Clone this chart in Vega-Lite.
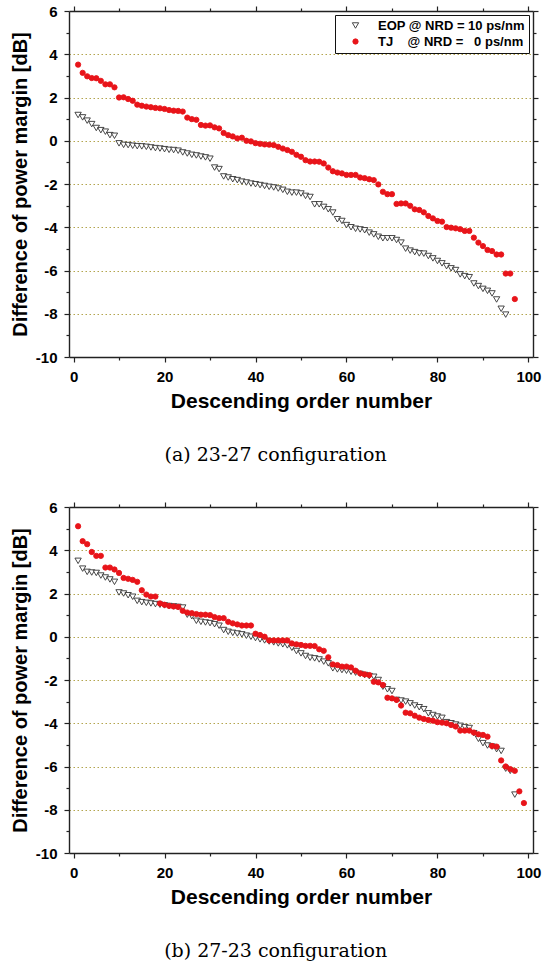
{
  "$schema": "https://vega.github.io/schema/vega-lite/v6.json",
  "padding": {"left": 10, "top": 4, "right": 5, "bottom": 5},
  "background": "white",
  "spacing": 35,
  "config": {
    "view": {"stroke": null},
    "axis": {
      "domainColor": "#222222",
      "domainWidth": 1.4,
      "tickColor": "#222222",
      "tickWidth": 1.2,
      "labelFont": "Liberation Sans",
      "labelFontWeight": "bold",
      "labelFontSize": 15,
      "labelColor": "#000000",
      "labelPadding": 7,
      "labelFlush": false,
      "labelOverlap": false,
      "titleFont": "Liberation Sans",
      "titleFontWeight": "bold",
      "titleColor": "#000000"
    },
    "legend": {
      "labelFont": "Liberation Sans",
      "labelFontWeight": "bold",
      "labelFontSize": 13,
      "labelColor": "#000000"
    }
  },
  "datasets": {
    "a": [
      {"order":1,"margin":1.19,"series":"EOP"},{"order":2,"margin":1.08,"series":"EOP"},{"order":3,"margin":0.93,"series":"EOP"},{"order":4,"margin":0.77,"series":"EOP"},{"order":5,"margin":0.59,"series":"EOP"},
      {"order":6,"margin":0.49,"series":"EOP"},{"order":7,"margin":0.42,"series":"EOP"},{"order":8,"margin":0.26,"series":"EOP"},{"order":9,"margin":0.23,"series":"EOP"},{"order":10,"margin":-0.12,"series":"EOP"},
      {"order":11,"margin":-0.19,"series":"EOP"},{"order":12,"margin":-0.2,"series":"EOP"},{"order":13,"margin":-0.23,"series":"EOP"},{"order":14,"margin":-0.25,"series":"EOP"},{"order":15,"margin":-0.26,"series":"EOP"},
      {"order":16,"margin":-0.28,"series":"EOP"},{"order":17,"margin":-0.31,"series":"EOP"},{"order":18,"margin":-0.34,"series":"EOP"},{"order":19,"margin":-0.36,"series":"EOP"},{"order":20,"margin":-0.39,"series":"EOP"},
      {"order":21,"margin":-0.42,"series":"EOP"},{"order":22,"margin":-0.43,"series":"EOP"},{"order":23,"margin":-0.46,"series":"EOP"},{"order":24,"margin":-0.54,"series":"EOP"},{"order":25,"margin":-0.59,"series":"EOP"},
      {"order":26,"margin":-0.65,"series":"EOP"},{"order":27,"margin":-0.68,"series":"EOP"},{"order":28,"margin":-0.73,"series":"EOP"},{"order":29,"margin":-0.77,"series":"EOP"},{"order":30,"margin":-0.83,"series":"EOP"},
      {"order":31,"margin":-1.24,"series":"EOP"},{"order":32,"margin":-1.31,"series":"EOP"},{"order":33,"margin":-1.65,"series":"EOP"},{"order":34,"margin":-1.7,"series":"EOP"},{"order":35,"margin":-1.78,"series":"EOP"},
      {"order":36,"margin":-1.82,"series":"EOP"},{"order":37,"margin":-1.89,"series":"EOP"},{"order":38,"margin":-1.93,"series":"EOP"},{"order":39,"margin":-1.98,"series":"EOP"},{"order":40,"margin":-2.01,"series":"EOP"},
      {"order":41,"margin":-2.05,"series":"EOP"},{"order":42,"margin":-2.09,"series":"EOP"},{"order":43,"margin":-2.13,"series":"EOP"},{"order":44,"margin":-2.16,"series":"EOP"},{"order":45,"margin":-2.21,"series":"EOP"},
      {"order":46,"margin":-2.27,"series":"EOP"},{"order":47,"margin":-2.36,"series":"EOP"},{"order":48,"margin":-2.4,"series":"EOP"},{"order":49,"margin":-2.4,"series":"EOP"},{"order":50,"margin":-2.44,"series":"EOP"},
      {"order":51,"margin":-2.55,"series":"EOP"},{"order":52,"margin":-2.6,"series":"EOP"},{"order":53,"margin":-2.94,"series":"EOP"},{"order":54,"margin":-2.94,"series":"EOP"},{"order":55,"margin":-3.06,"series":"EOP"},
      {"order":56,"margin":-3.17,"series":"EOP"},{"order":57,"margin":-3.32,"series":"EOP"},{"order":58,"margin":-3.63,"series":"EOP"},{"order":59,"margin":-3.71,"series":"EOP"},{"order":60,"margin":-3.9,"series":"EOP"},
      {"order":61,"margin":-4.0,"series":"EOP"},{"order":62,"margin":-4.07,"series":"EOP"},{"order":63,"margin":-4.1,"series":"EOP"},{"order":64,"margin":-4.14,"series":"EOP"},{"order":65,"margin":-4.25,"series":"EOP"},
      {"order":66,"margin":-4.33,"series":"EOP"},{"order":67,"margin":-4.44,"series":"EOP"},{"order":68,"margin":-4.51,"series":"EOP"},{"order":69,"margin":-4.51,"series":"EOP"},{"order":70,"margin":-4.51,"series":"EOP"},
      {"order":71,"margin":-4.59,"series":"EOP"},{"order":72,"margin":-4.71,"series":"EOP"},{"order":73,"margin":-4.99,"series":"EOP"},{"order":74,"margin":-5.08,"series":"EOP"},{"order":75,"margin":-5.15,"series":"EOP"},
      {"order":76,"margin":-5.21,"series":"EOP"},{"order":77,"margin":-5.22,"series":"EOP"},{"order":78,"margin":-5.33,"series":"EOP"},{"order":79,"margin":-5.44,"series":"EOP"},{"order":80,"margin":-5.56,"series":"EOP"},
      {"order":81,"margin":-5.67,"series":"EOP"},{"order":82,"margin":-5.8,"series":"EOP"},{"order":83,"margin":-5.9,"series":"EOP"},{"order":84,"margin":-5.98,"series":"EOP"},{"order":85,"margin":-6.18,"series":"EOP"},
      {"order":86,"margin":-6.26,"series":"EOP"},{"order":87,"margin":-6.31,"series":"EOP"},{"order":88,"margin":-6.6,"series":"EOP"},{"order":89,"margin":-6.72,"series":"EOP"},{"order":90,"margin":-6.85,"series":"EOP"},
      {"order":91,"margin":-6.94,"series":"EOP"},{"order":92,"margin":-7.06,"series":"EOP"},{"order":93,"margin":-7.34,"series":"EOP"},{"order":94,"margin":-7.77,"series":"EOP"},{"order":95,"margin":-8.04,"series":"EOP"},
      {"order":1,"margin":3.52,"series":"TJ"},{"order":2,"margin":3.14,"series":"TJ"},{"order":3,"margin":2.98,"series":"TJ"},{"order":4,"margin":2.9,"series":"TJ"},{"order":5,"margin":2.89,"series":"TJ"},
      {"order":6,"margin":2.77,"series":"TJ"},{"order":7,"margin":2.61,"series":"TJ"},{"order":8,"margin":2.61,"series":"TJ"},{"order":9,"margin":2.47,"series":"TJ"},{"order":10,"margin":2.0,"series":"TJ"},
      {"order":11,"margin":2.01,"series":"TJ"},{"order":12,"margin":1.93,"series":"TJ"},{"order":13,"margin":1.85,"series":"TJ"},{"order":14,"margin":1.67,"series":"TJ"},{"order":15,"margin":1.62,"series":"TJ"},
      {"order":16,"margin":1.58,"series":"TJ"},{"order":17,"margin":1.55,"series":"TJ"},{"order":18,"margin":1.52,"series":"TJ"},{"order":19,"margin":1.5,"series":"TJ"},{"order":20,"margin":1.47,"series":"TJ"},
      {"order":21,"margin":1.42,"series":"TJ"},{"order":22,"margin":1.39,"series":"TJ"},{"order":23,"margin":1.38,"series":"TJ"},{"order":24,"margin":1.35,"series":"TJ"},{"order":25,"margin":1.07,"series":"TJ"},
      {"order":26,"margin":1.0,"series":"TJ"},{"order":27,"margin":0.97,"series":"TJ"},{"order":28,"margin":0.73,"series":"TJ"},{"order":29,"margin":0.7,"series":"TJ"},{"order":30,"margin":0.71,"series":"TJ"},
      {"order":31,"margin":0.62,"series":"TJ"},{"order":32,"margin":0.57,"series":"TJ"},{"order":33,"margin":0.36,"series":"TJ"},{"order":34,"margin":0.26,"series":"TJ"},{"order":35,"margin":0.2,"series":"TJ"},
      {"order":36,"margin":0.11,"series":"TJ"},{"order":37,"margin":0.14,"series":"TJ"},{"order":38,"margin":0.0,"series":"TJ"},{"order":39,"margin":-0.03,"series":"TJ"},{"order":40,"margin":-0.11,"series":"TJ"},
      {"order":41,"margin":-0.14,"series":"TJ"},{"order":42,"margin":-0.17,"series":"TJ"},{"order":43,"margin":-0.18,"series":"TJ"},{"order":44,"margin":-0.2,"series":"TJ"},{"order":45,"margin":-0.28,"series":"TJ"},
      {"order":46,"margin":-0.36,"series":"TJ"},{"order":47,"margin":-0.43,"series":"TJ"},{"order":48,"margin":-0.51,"series":"TJ"},{"order":49,"margin":-0.65,"series":"TJ"},{"order":50,"margin":-0.74,"series":"TJ"},
      {"order":51,"margin":-0.9,"series":"TJ"},{"order":52,"margin":-0.96,"series":"TJ"},{"order":53,"margin":-0.96,"series":"TJ"},{"order":54,"margin":-0.97,"series":"TJ"},{"order":55,"margin":-1.05,"series":"TJ"},
      {"order":56,"margin":-1.24,"series":"TJ"},{"order":57,"margin":-1.41,"series":"TJ"},{"order":58,"margin":-1.47,"series":"TJ"},{"order":59,"margin":-1.51,"series":"TJ"},{"order":60,"margin":-1.58,"series":"TJ"},
      {"order":61,"margin":-1.58,"series":"TJ"},{"order":62,"margin":-1.58,"series":"TJ"},{"order":63,"margin":-1.7,"series":"TJ"},{"order":64,"margin":-1.73,"series":"TJ"},{"order":65,"margin":-1.78,"series":"TJ"},
      {"order":66,"margin":-1.82,"series":"TJ"},{"order":67,"margin":-2.02,"series":"TJ"},{"order":68,"margin":-2.36,"series":"TJ"},{"order":69,"margin":-2.47,"series":"TJ"},{"order":70,"margin":-2.47,"series":"TJ"},
      {"order":71,"margin":-2.92,"series":"TJ"},{"order":72,"margin":-2.9,"series":"TJ"},{"order":73,"margin":-2.9,"series":"TJ"},{"order":74,"margin":-3.01,"series":"TJ"},{"order":75,"margin":-3.17,"series":"TJ"},
      {"order":76,"margin":-3.2,"series":"TJ"},{"order":77,"margin":-3.31,"series":"TJ"},{"order":78,"margin":-3.48,"series":"TJ"},{"order":79,"margin":-3.59,"series":"TJ"},{"order":80,"margin":-3.71,"series":"TJ"},
      {"order":81,"margin":-3.74,"series":"TJ"},{"order":82,"margin":-3.99,"series":"TJ"},{"order":83,"margin":-4.02,"series":"TJ"},{"order":84,"margin":-4.05,"series":"TJ"},{"order":85,"margin":-4.09,"series":"TJ"},
      {"order":86,"margin":-4.17,"series":"TJ"},{"order":87,"margin":-4.17,"series":"TJ"},{"order":88,"margin":-4.48,"series":"TJ"},{"order":89,"margin":-4.71,"series":"TJ"},{"order":90,"margin":-4.87,"series":"TJ"},
      {"order":91,"margin":-5.05,"series":"TJ"},{"order":92,"margin":-5.1,"series":"TJ"},{"order":93,"margin":-5.26,"series":"TJ"},{"order":94,"margin":-5.26,"series":"TJ"},{"order":95,"margin":-6.14,"series":"TJ"},
      {"order":96,"margin":-6.14,"series":"TJ"},{"order":97,"margin":-7.32,"series":"TJ"}
    ],
    "b": [
      {"order":1,"margin":3.51,"series":"EOP"},{"order":2,"margin":3.15,"series":"EOP"},{"order":3,"margin":3.0,"series":"EOP"},{"order":4,"margin":2.97,"series":"EOP"},{"order":5,"margin":2.95,"series":"EOP"},
      {"order":6,"margin":2.83,"series":"EOP"},{"order":7,"margin":2.74,"series":"EOP"},{"order":8,"margin":2.65,"series":"EOP"},{"order":9,"margin":2.54,"series":"EOP"},{"order":10,"margin":2.05,"series":"EOP"},
      {"order":11,"margin":2.0,"series":"EOP"},{"order":12,"margin":1.92,"series":"EOP"},{"order":13,"margin":1.85,"series":"EOP"},{"order":14,"margin":1.66,"series":"EOP"},{"order":15,"margin":1.6,"series":"EOP"},
      {"order":16,"margin":1.57,"series":"EOP"},{"order":17,"margin":1.54,"series":"EOP"},{"order":18,"margin":1.51,"series":"EOP"},{"order":19,"margin":1.48,"series":"EOP"},{"order":20,"margin":1.45,"series":"EOP"},
      {"order":21,"margin":1.42,"series":"EOP"},{"order":22,"margin":1.4,"series":"EOP"},{"order":23,"margin":1.38,"series":"EOP"},{"order":24,"margin":1.35,"series":"EOP"},{"order":25,"margin":1.02,"series":"EOP"},
      {"order":26,"margin":0.95,"series":"EOP"},{"order":27,"margin":0.74,"series":"EOP"},{"order":28,"margin":0.69,"series":"EOP"},{"order":29,"margin":0.66,"series":"EOP"},{"order":30,"margin":0.63,"series":"EOP"},
      {"order":31,"margin":0.58,"series":"EOP"},{"order":32,"margin":0.51,"series":"EOP"},{"order":33,"margin":0.31,"series":"EOP"},{"order":34,"margin":0.23,"series":"EOP"},{"order":35,"margin":0.18,"series":"EOP"},
      {"order":36,"margin":0.15,"series":"EOP"},{"order":37,"margin":0.11,"series":"EOP"},{"order":38,"margin":0.05,"series":"EOP"},{"order":39,"margin":0.0,"series":"EOP"},{"order":40,"margin":-0.06,"series":"EOP"},
      {"order":41,"margin":-0.12,"series":"EOP"},{"order":42,"margin":-0.17,"series":"EOP"},{"order":43,"margin":-0.22,"series":"EOP"},{"order":44,"margin":-0.26,"series":"EOP"},{"order":45,"margin":-0.31,"series":"EOP"},
      {"order":46,"margin":-0.35,"series":"EOP"},{"order":47,"margin":-0.4,"series":"EOP"},{"order":48,"margin":-0.51,"series":"EOP"},{"order":49,"margin":-0.66,"series":"EOP"},{"order":50,"margin":-0.77,"series":"EOP"},
      {"order":51,"margin":-0.89,"series":"EOP"},{"order":52,"margin":-0.97,"series":"EOP"},{"order":53,"margin":-1.0,"series":"EOP"},{"order":54,"margin":-1.05,"series":"EOP"},{"order":55,"margin":-1.15,"series":"EOP"},
      {"order":56,"margin":-1.23,"series":"EOP"},{"order":57,"margin":-1.46,"series":"EOP"},{"order":58,"margin":-1.51,"series":"EOP"},{"order":59,"margin":-1.54,"series":"EOP"},{"order":60,"margin":-1.57,"series":"EOP"},
      {"order":61,"margin":-1.62,"series":"EOP"},{"order":62,"margin":-1.66,"series":"EOP"},{"order":63,"margin":-1.72,"series":"EOP"},{"order":64,"margin":-1.77,"series":"EOP"},{"order":65,"margin":-1.82,"series":"EOP"},
      {"order":66,"margin":-1.85,"series":"EOP"},{"order":67,"margin":-2.0,"series":"EOP"},{"order":68,"margin":-2.31,"series":"EOP"},{"order":69,"margin":-2.43,"series":"EOP"},{"order":70,"margin":-2.51,"series":"EOP"},
      {"order":71,"margin":-2.92,"series":"EOP"},{"order":72,"margin":-2.95,"series":"EOP"},{"order":73,"margin":-3.0,"series":"EOP"},{"order":74,"margin":-3.08,"series":"EOP"},{"order":75,"margin":-3.18,"series":"EOP"},
      {"order":76,"margin":-3.26,"series":"EOP"},{"order":77,"margin":-3.35,"series":"EOP"},{"order":78,"margin":-3.54,"series":"EOP"},{"order":79,"margin":-3.62,"series":"EOP"},{"order":80,"margin":-3.69,"series":"EOP"},
      {"order":81,"margin":-3.75,"series":"EOP"},{"order":82,"margin":-3.95,"series":"EOP"},{"order":83,"margin":-4.0,"series":"EOP"},{"order":84,"margin":-4.06,"series":"EOP"},{"order":85,"margin":-4.12,"series":"EOP"},
      {"order":86,"margin":-4.18,"series":"EOP"},{"order":87,"margin":-4.22,"series":"EOP"},{"order":88,"margin":-4.46,"series":"EOP"},{"order":89,"margin":-4.72,"series":"EOP"},{"order":90,"margin":-4.92,"series":"EOP"},
      {"order":91,"margin":-5.03,"series":"EOP"},{"order":92,"margin":-5.08,"series":"EOP"},{"order":93,"margin":-5.2,"series":"EOP"},{"order":94,"margin":-5.28,"series":"EOP"},{"order":95,"margin":-6.1,"series":"EOP"},
      {"order":96,"margin":-6.2,"series":"EOP"},{"order":97,"margin":-7.3,"series":"EOP"},
      {"order":1,"margin":5.11,"series":"TJ"},{"order":2,"margin":4.42,"series":"TJ"},{"order":3,"margin":4.28,"series":"TJ"},{"order":4,"margin":3.92,"series":"TJ"},{"order":5,"margin":3.74,"series":"TJ"},
      {"order":6,"margin":3.74,"series":"TJ"},{"order":7,"margin":3.2,"series":"TJ"},{"order":8,"margin":3.2,"series":"TJ"},{"order":9,"margin":3.11,"series":"TJ"},{"order":10,"margin":2.95,"series":"TJ"},
      {"order":11,"margin":2.72,"series":"TJ"},{"order":12,"margin":2.68,"series":"TJ"},{"order":13,"margin":2.63,"series":"TJ"},{"order":14,"margin":2.54,"series":"TJ"},{"order":15,"margin":2.15,"series":"TJ"},
      {"order":16,"margin":1.95,"series":"TJ"},{"order":17,"margin":1.86,"series":"TJ"},{"order":18,"margin":1.86,"series":"TJ"},{"order":19,"margin":1.54,"series":"TJ"},{"order":20,"margin":1.48,"series":"TJ"},
      {"order":21,"margin":1.43,"series":"TJ"},{"order":22,"margin":1.4,"series":"TJ"},{"order":23,"margin":1.38,"series":"TJ"},{"order":24,"margin":1.2,"series":"TJ"},{"order":25,"margin":1.12,"series":"TJ"},
      {"order":26,"margin":1.09,"series":"TJ"},{"order":27,"margin":1.05,"series":"TJ"},{"order":28,"margin":1.02,"series":"TJ"},{"order":29,"margin":1.02,"series":"TJ"},{"order":30,"margin":1.0,"series":"TJ"},
      {"order":31,"margin":0.91,"series":"TJ"},{"order":32,"margin":0.86,"series":"TJ"},{"order":33,"margin":0.86,"series":"TJ"},{"order":34,"margin":0.69,"series":"TJ"},{"order":35,"margin":0.62,"series":"TJ"},
      {"order":36,"margin":0.57,"series":"TJ"},{"order":37,"margin":0.52,"series":"TJ"},{"order":38,"margin":0.52,"series":"TJ"},{"order":39,"margin":0.52,"series":"TJ"},{"order":40,"margin":0.14,"series":"TJ"},
      {"order":41,"margin":0.08,"series":"TJ"},{"order":42,"margin":0.0,"series":"TJ"},{"order":43,"margin":-0.17,"series":"TJ"},{"order":44,"margin":-0.17,"series":"TJ"},{"order":45,"margin":-0.17,"series":"TJ"},
      {"order":46,"margin":-0.17,"series":"TJ"},{"order":47,"margin":-0.17,"series":"TJ"},{"order":48,"margin":-0.31,"series":"TJ"},{"order":49,"margin":-0.35,"series":"TJ"},{"order":50,"margin":-0.38,"series":"TJ"},
      {"order":51,"margin":-0.42,"series":"TJ"},{"order":52,"margin":-0.42,"series":"TJ"},{"order":53,"margin":-0.43,"series":"TJ"},{"order":54,"margin":-0.58,"series":"TJ"},{"order":55,"margin":-0.65,"series":"TJ"},
      {"order":56,"margin":-0.95,"series":"TJ"},{"order":57,"margin":-1.28,"series":"TJ"},{"order":58,"margin":-1.31,"series":"TJ"},{"order":59,"margin":-1.38,"series":"TJ"},{"order":60,"margin":-1.38,"series":"TJ"},
      {"order":61,"margin":-1.42,"series":"TJ"},{"order":62,"margin":-1.57,"series":"TJ"},{"order":63,"margin":-1.69,"series":"TJ"},{"order":64,"margin":-1.74,"series":"TJ"},{"order":65,"margin":-1.77,"series":"TJ"},
      {"order":66,"margin":-2.08,"series":"TJ"},{"order":67,"margin":-2.11,"series":"TJ"},{"order":68,"margin":-2.23,"series":"TJ"},{"order":69,"margin":-2.82,"series":"TJ"},{"order":70,"margin":-2.85,"series":"TJ"},
      {"order":71,"margin":-2.92,"series":"TJ"},{"order":72,"margin":-3.18,"series":"TJ"},{"order":73,"margin":-3.51,"series":"TJ"},{"order":74,"margin":-3.54,"series":"TJ"},{"order":75,"margin":-3.65,"series":"TJ"},
      {"order":76,"margin":-3.74,"series":"TJ"},{"order":77,"margin":-3.8,"series":"TJ"},{"order":78,"margin":-3.85,"series":"TJ"},{"order":79,"margin":-3.88,"series":"TJ"},{"order":80,"margin":-3.95,"series":"TJ"},
      {"order":81,"margin":-3.97,"series":"TJ"},{"order":82,"margin":-4.0,"series":"TJ"},{"order":83,"margin":-4.08,"series":"TJ"},{"order":84,"margin":-4.15,"series":"TJ"},{"order":85,"margin":-4.34,"series":"TJ"},
      {"order":86,"margin":-4.34,"series":"TJ"},{"order":87,"margin":-4.34,"series":"TJ"},{"order":88,"margin":-4.43,"series":"TJ"},{"order":89,"margin":-4.51,"series":"TJ"},{"order":90,"margin":-4.54,"series":"TJ"},
      {"order":91,"margin":-4.62,"series":"TJ"},{"order":92,"margin":-5.05,"series":"TJ"},{"order":93,"margin":-5.08,"series":"TJ"},{"order":94,"margin":-5.72,"series":"TJ"},{"order":95,"margin":-6.0,"series":"TJ"},
      {"order":96,"margin":-6.12,"series":"TJ"},{"order":97,"margin":-6.2,"series":"TJ"},{"order":98,"margin":-7.15,"series":"TJ"},{"order":99,"margin":-7.69,"series":"TJ"}
    ]
  },
  "vconcat": [
    {
      "width": 464,
      "height": 346,
      "data": {"name": "a"},
      "title": {"text": "(a) 23-27 configuration", "orient": "bottom", "anchor": "middle", "frame": "bounds", "font": "DejaVu Serif", "fontSize": 19, "fontWeight": "normal", "color": "#000000", "offset": 35},
      "layer": [
        {
          "mark": {"type": "point", "strokeWidth": 0.9, "opacity": 1},
          "encoding": {
            "x": {"field": "order", "type": "quantitative", "scale": {"domain": [-1, 101], "nice": false, "zero": false},
              "axis": {"orient": "bottom", "title": "Descending order number", "titleFontSize": 21, "titlePadding": 6, "grid": false,
                "values": [0, 10, 20, 30, 40, 50, 60, 70, 80, 90, 100],
                "labelExpr": "datum.value % 20 === 0 ? '' + datum.value : ''",
                "tickSize": {"condition": {"test": "datum.value % 20 !== 0", "value": 3}, "value": 5}}},
            "y": {"field": "margin", "type": "quantitative", "scale": {"domain": [-10, 6], "nice": false, "zero": false},
              "axis": {"orient": "left", "title": "Difference of power margin [dB]", "titleFontSize": 20, "titlePadding": 5,
                "values": [-10, -9, -8, -7, -6, -5, -4, -3, -2, -1, 0, 1, 2, 3, 4, 5, 6],
                "labelExpr": "datum.value % 2 === 0 ? '' + datum.value : ''",
                "tickSize": {"condition": {"test": "datum.value % 2 !== 0", "value": 3}, "value": 5},
                "grid": true, "gridColor": "#b3a54e", "gridDash": [1.5, 2.5], "gridWidth": 1,
                "gridOpacity": {"condition": {"test": "datum.value % 2 !== 0 || datum.value === 6 || datum.value === -10", "value": 0}, "value": 1}}},
            "shape": {"field": "series", "type": "nominal", "scale": {"domain": ["EOP", "TJ"], "range": ["triangle-down", "circle"]},
              "legend": {"title": null, "orient": "top-right", "offset": 4, "strokeColor": "#111111", "fillColor": "#ffffff", "padding": 4,
                "symbolSize": 36, "symbolStrokeWidth": 0.9, "labelOffset": 16, "rowPadding": 2, "symbolOffset": 10,
                "labelExpr": "datum.value === 'EOP' ? 'EOP @ NRD = 10 ps/nm' : 'TJ\u00a0\u00a0\u00a0\u00a0@ NRD =\u00a0\u00a0\u00a00 ps/nm'"}},
            "fill": {"field": "series", "type": "nominal", "scale": {"domain": ["EOP", "TJ"], "range": ["#ffffff", "#e8141a"]}},
            "stroke": {"field": "series", "type": "nominal", "scale": {"domain": ["EOP", "TJ"], "range": ["#333333", "#e8141a"]}},
            "size": {"field": "series", "type": "nominal", "scale": {"domain": ["EOP", "TJ"], "range": [40, 28]}}
          }
        },
        {
          "mark": {"type": "point", "opacity": 0},
          "encoding": {
            "x": {"field": "order", "type": "quantitative", "scale": {"domain": [-1, 101], "nice": false, "zero": false},
              "axis": {"orient": "top", "title": null, "labels": false, "grid": false,
                "values": [0, 10, 20, 30, 40, 50, 60, 70, 80, 90, 100],
                "tickSize": {"condition": {"test": "datum.value % 20 !== 0", "value": 3}, "value": 5}}},
            "y": {"field": "margin", "type": "quantitative", "scale": {"domain": [-10, 6], "nice": false, "zero": false},
              "axis": {"orient": "right", "title": null, "labels": false, "grid": false,
                "values": [-10, -9, -8, -7, -6, -5, -4, -3, -2, -1, 0, 1, 2, 3, 4, 5, 6],
                "tickSize": {"condition": {"test": "datum.value % 2 !== 0", "value": 3}, "value": 5}}}
          }
        }
      ],
      "resolve": {"axis": {"x": "independent", "y": "independent"}}
    },
    {
      "width": 464,
      "height": 346,
      "data": {"name": "b"},
      "title": {"text": "(b) 27-23 configuration", "orient": "bottom", "anchor": "middle", "frame": "bounds", "font": "DejaVu Serif", "fontSize": 19, "fontWeight": "normal", "color": "#000000", "offset": 35},
      "layer": [
        {
          "mark": {"type": "point", "strokeWidth": 0.9, "opacity": 1},
          "encoding": {
            "x": {"field": "order", "type": "quantitative", "scale": {"domain": [-1, 101], "nice": false, "zero": false},
              "axis": {"orient": "bottom", "title": "Descending order number", "titleFontSize": 21, "titlePadding": 6, "grid": false,
                "values": [0, 10, 20, 30, 40, 50, 60, 70, 80, 90, 100],
                "labelExpr": "datum.value % 20 === 0 ? '' + datum.value : ''",
                "tickSize": {"condition": {"test": "datum.value % 20 !== 0", "value": 3}, "value": 5}}},
            "y": {"field": "margin", "type": "quantitative", "scale": {"domain": [-10, 6], "nice": false, "zero": false},
              "axis": {"orient": "left", "title": "Difference of power margin [dB]", "titleFontSize": 20, "titlePadding": 5,
                "values": [-10, -9, -8, -7, -6, -5, -4, -3, -2, -1, 0, 1, 2, 3, 4, 5, 6],
                "labelExpr": "datum.value % 2 === 0 ? '' + datum.value : ''",
                "tickSize": {"condition": {"test": "datum.value % 2 !== 0", "value": 3}, "value": 5},
                "grid": true, "gridColor": "#b3a54e", "gridDash": [1.5, 2.5], "gridWidth": 1,
                "gridOpacity": {"condition": {"test": "datum.value % 2 !== 0 || datum.value === 6 || datum.value === -10", "value": 0}, "value": 1}}},
            "shape": {"field": "series", "type": "nominal", "scale": {"domain": ["EOP", "TJ"], "range": ["triangle-down", "circle"]},
              "legend": {"title": null, "orient": "top-right", "offset": 4, "strokeColor": "#111111", "fillColor": "#ffffff", "padding": 4,
                "symbolSize": 36, "symbolStrokeWidth": 0.9, "labelOffset": 16, "rowPadding": 2, "symbolOffset": 10,
                "labelExpr": "datum.value === 'EOP' ? 'EOP @ NRD = 10 ps/nm' : 'TJ\u00a0\u00a0\u00a0\u00a0@ NRD =\u00a0\u00a0\u00a00 ps/nm'"}},
            "fill": {"field": "series", "type": "nominal", "scale": {"domain": ["EOP", "TJ"], "range": ["#ffffff", "#e8141a"]}},
            "stroke": {"field": "series", "type": "nominal", "scale": {"domain": ["EOP", "TJ"], "range": ["#333333", "#e8141a"]}},
            "size": {"field": "series", "type": "nominal", "scale": {"domain": ["EOP", "TJ"], "range": [40, 28]}}
          }
        },
        {
          "mark": {"type": "point", "opacity": 0},
          "encoding": {
            "x": {"field": "order", "type": "quantitative", "scale": {"domain": [-1, 101], "nice": false, "zero": false},
              "axis": {"orient": "top", "title": null, "labels": false, "grid": false,
                "values": [0, 10, 20, 30, 40, 50, 60, 70, 80, 90, 100],
                "tickSize": {"condition": {"test": "datum.value % 20 !== 0", "value": 3}, "value": 5}}},
            "y": {"field": "margin", "type": "quantitative", "scale": {"domain": [-10, 6], "nice": false, "zero": false},
              "axis": {"orient": "right", "title": null, "labels": false, "grid": false,
                "values": [-10, -9, -8, -7, -6, -5, -4, -3, -2, -1, 0, 1, 2, 3, 4, 5, 6],
                "tickSize": {"condition": {"test": "datum.value % 2 !== 0", "value": 3}, "value": 5}}}
          }
        }
      ],
      "resolve": {"axis": {"x": "independent", "y": "independent"}}
    }
  ]
}
